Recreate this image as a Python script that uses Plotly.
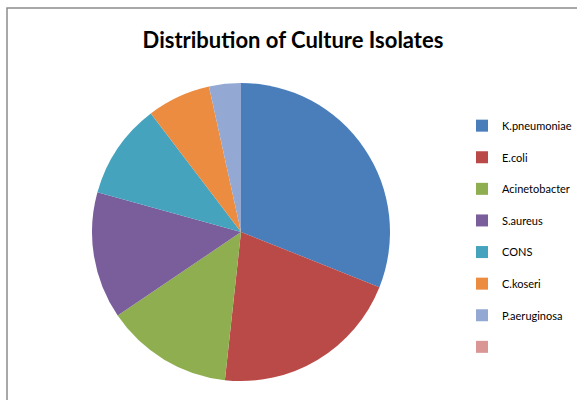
import plotly.graph_objects as go

categories = ["K.pneumoniae", "E.coli", "Acinetobacter", "S.aureus", "CONS",
              "C.koseri", "P.aeruginosa", " "]
counts = [9, 6, 4, 4, 3, 2, 1, 0]
colors = ["#4A7EBB", "#B94A47", "#8EAE50", "#7A5E9C", "#45A3BD",
          "#EC8C40", "#93A9D3", "#D99694"]

W, H = 577, 400
legend_labels = [c + "<br> " for c in categories]

fig = go.Figure(go.Pie(
    labels=legend_labels,
    values=counts,
    sort=False,
    direction="clockwise",
    rotation=0,
    marker=dict(colors=colors, line=dict(width=0)),
    textinfo="none",
    hoverinfo="label+value+percent",
    domain=dict(x=[92 / W, 390 / W], y=[1 - 381 / H, 1 - 83 / H]),
))

fig.update_layout(
    width=W, height=H,
    margin=dict(l=0, r=0, t=0, b=0, autoexpand=False),
    paper_bgcolor="white",
    plot_bgcolor="white",
    title=dict(text="<b>Distribution of Culture Isolates</b>",
               x=293 / W, xanchor="center", y=1 - 40 / H, yanchor="middle",
               font=dict(family="Lato, sans-serif", size=22, color="black")),
    legend=dict(x=462 / W, xanchor="left", y=1 - 112 / H, yanchor="top",
                font=dict(family="Lato, sans-serif", size=11, color="black"),
                valign="top", itemwidth=30, bgcolor="rgba(0,0,0,0)"),
    shapes=[dict(type="rect", xref="paper", yref="paper",
                 x0=7 / W, x1=1.05, y0=-0.05, y1=1 - 8 / H,
                 line=dict(color="#8C8C8C", width=1.5), layer="below")],
)

fig.write_html("out.html", config={"displayModeBar": False},
               post_script="document.body.style.margin='0';")
